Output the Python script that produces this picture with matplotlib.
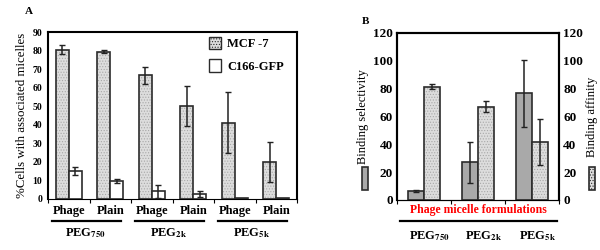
import numpy as np
import matplotlib
matplotlib.use("Agg")
import matplotlib.pyplot as plt
from matplotlib.patches import Rectangle, Patch

plt.rcParams['font.family'] = ['Liberation Serif', 'DejaVu Serif']
plt.rcParams['font.weight'] = 'bold'
plt.rcParams['mathtext.fontset'] = 'stix'
plt.rcParams['hatch.linewidth'] = 0.5

# panel A data
cats_a = ["Phage", "Plain", "Phage", "Plain", "Phage", "Plain"]
groups_a = [r"PEG$_{\mathbf{750}}$", r"PEG$_{\mathbf{2k}}$", r"PEG$_{\mathbf{5k}}$"]
mcf7 = [80.5, 79.4, 66.6, 50.1, 41.1, 20.1]
mcf7_err = [2.3, 0.7, 4.5, 10.7, 16.3, 10.7]
c166 = [15.1, 9.7, 4.1, 2.7, 0.4, 0.3]
c166_err = [2.0, 1.0, 3.6, 1.7, 0, 0]

# panel B data
groups_b = [r"PEG$_{\mathbf{750}}$", r"PEG$_{\mathbf{2k}}$", r"PEG$_{\mathbf{5k}}$"]
selectivity = [6.2, 27.1, 76.8]
selectivity_err = [0.8, 14.7, 24.0]
affinity = [81.4, 67.0, 41.5]
affinity_err = [1.7, 4.0, 16.5]

HATCH_FC = '#dddddd'
HATCH_EC = '#a8a8a8'
EDGE = '#2b2b2b'


def hatched_bars(ax, x, h, w):
    ax.bar(x, h, w, color=HATCH_FC, edgecolor=HATCH_EC, hatch='......', linewidth=0, zorder=2)
    ax.bar(x, h, w, fill=False, edgecolor=EDGE, linewidth=1.2, zorder=3)


fig = plt.figure(figsize=(6, 2.5), dpi=100)

# ---------- panel A ----------
ax = fig.add_axes([0.08, 0.204, 0.415, 0.668])
x = np.arange(len(cats_a))
w = 0.31
hatched_bars(ax, x - w / 2, mcf7, w)
ax.errorbar(x - w / 2, mcf7, yerr=mcf7_err, fmt='none', ecolor='#222', elinewidth=1.1, capsize=2, capthick=1, zorder=4)
ax.bar(x + w / 2, c166, w, color='white', edgecolor=EDGE, linewidth=1.2, zorder=3)
ax.errorbar(x[:4] + w / 2, c166[:4], yerr=c166_err[:4], fmt='none', ecolor='#222', elinewidth=1.1, capsize=2, capthick=1, zorder=4)
ax.set_xlim(-0.5, 5.5)
ax.set_ylim(0, 90)
ax.set_yticks(range(0, 91, 10))
ax.tick_params(axis='y', labelsize=7, length=0, pad=4)
ax.set_xticks(np.arange(-0.5, 6, 1))
ax.set_xticklabels([])
ax.tick_params(axis='x', direction='out', length=3, width=0.8)
for s in ax.spines.values():
    s.set_linewidth(1.5)
ax.spines['bottom'].set_linewidth(0.8)
ax.set_ylabel('%Cells with associated micelles', fontsize=9.3, labelpad=3)

tr = ax.get_xaxis_transform()
for i, c in enumerate(cats_a):
    ax.text(i, -0.035, c, transform=tr, ha='center', va='top', fontsize=9)
for g, name in enumerate(groups_a):
    ax.plot([2 * g - 0.4, 2 * g + 1.25], [-0.13, -0.13], transform=tr, color='black', lw=1.6, clip_on=False)
    ax.text(2 * g + 0.4, -0.165, name, transform=tr, ha='center', va='top', fontsize=9)

handles = [Patch(facecolor=HATCH_FC, edgecolor=EDGE, hatch='......', lw=1.0),
           Patch(facecolor='white', edgecolor=EDGE, lw=1.0)]
ax.legend(handles, ['MCF -7', 'C166-GFP'], loc='upper left', bbox_to_anchor=(0.6, 1.04),
          frameon=False, fontsize=9, labelspacing=0.7, handlelength=1.0, handleheight=1.2, handletextpad=0.5)
fig.text(0.042, 0.945, 'A', fontsize=8)

# ---------- panel B ----------
bx = fig.add_axes([0.662, 0.2, 0.27, 0.668])
xb = np.arange(len(groups_b))
wb = 0.3
bx.bar(xb - wb / 2, selectivity, wb, color='#a9a9a9', edgecolor=EDGE, linewidth=1.2, zorder=3)
bx.errorbar(xb - wb / 2, selectivity, yerr=selectivity_err, fmt='none', ecolor='#222', elinewidth=1.1, capsize=2, capthick=1, zorder=4)
bx.set_xlim(-0.5, 2.5)
bx.set_ylim(0, 120)
bx.set_yticks(range(0, 121, 20))
bx.tick_params(axis='y', labelsize=9.5, length=0, pad=3)
bx.set_xticks(np.arange(-0.5, 3, 1))
bx.set_xticklabels([])
bx.tick_params(axis='x', direction='out', length=3, width=0.8)
bx.set_ylabel('Binding selectivity', fontsize=9, labelpad=3)

bx2 = bx.twinx()
bx2.set_ylim(0, 120)
hatched_bars(bx2, xb + wb / 2, affinity, wb)
bx2.errorbar(xb + wb / 2, affinity, yerr=affinity_err, fmt='none', ecolor='#222', elinewidth=1.1, capsize=2, capthick=1, zorder=4)
bx2.set_yticks(range(0, 121, 20))
bx2.tick_params(axis='y', labelsize=9.5, length=0, pad=3)
bx2.set_ylabel('Binding affinity', fontsize=9, labelpad=2, rotation=90)
for a in (bx, bx2):
    for s in a.spines.values():
        s.set_linewidth(1.5)
    a.spines['bottom'].set_linewidth(0.8)

trb = bx.get_xaxis_transform()
bx.text(1, -0.025, 'Phage micelle formulations', transform=trb, ha='center', va='top',
        fontsize=8.5, color='red')
bx.plot([-0.45, 2.45], [-0.125, -0.125], transform=trb, color='black', lw=1.6, clip_on=False)
for i, name in enumerate(groups_b):
    bx.text(i + 0.1, -0.175, name, transform=trb, ha='center', va='top', fontsize=9)
fig.text(0.603, 0.905, 'B', fontsize=8)

# small legend swatches beside the axes
fig.patches.append(Rectangle((0.603, 0.24), 0.011, 0.092, transform=fig.transFigure,
                             facecolor='#a9a9a9', edgecolor=EDGE, lw=1.2))
fig.patches.append(Rectangle((0.981, 0.24), 0.011, 0.092, transform=fig.transFigure,
                             facecolor=HATCH_FC, edgecolor=EDGE, lw=1.2, hatch='......'))

fig.savefig('out.png', dpi=100)
